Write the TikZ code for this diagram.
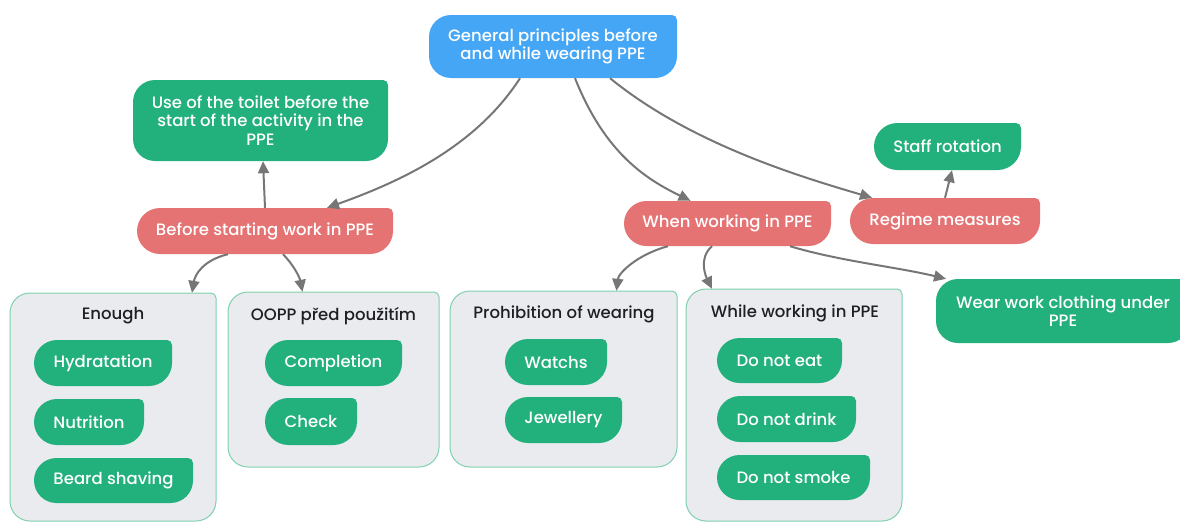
\documentclass[tikz,border=0pt]{standalone}
\usepackage{fontspec}
\IfFontExistsTF{Poppins Medium}
  {\setmainfont{Poppins Medium}}
  {\setmainfont{Poppins}[FakeBold=0.35]}
\usetikzlibrary{arrows.meta}

\definecolor{blueC}{HTML}{45A6F6}
\definecolor{greenC}{HTML}{22B07D}
\definecolor{redC}{HTML}{E57373}
\definecolor{groupC}{HTML}{EAEBEF}
\definecolor{groupLine}{HTML}{7FD0AE}
\definecolor{arrowC}{HTML}{767676}
\definecolor{titleC}{HTML}{1E1E24}

% Rounded box: big radius on three corners, small radius top right.
% #1 cx, #2 cy (downwards), #3 width, #4 height, #5 big radius, #6 path options
\newcommand\blobshape[6]{%
  \pgfmathsetmacro\bxl{#1-#3/2}\pgfmathsetmacro\bxr{#1+#3/2}%
  \pgfmathsetmacro\byt{-#2+#4/2}\pgfmathsetmacro\byb{-#2-#4/2}%
  \path[#6] ({\bxl},{\byt-#5})
      arc[start angle=180,end angle=90,radius=#5pt]
    -- ({\bxr-5},{\byt}) arc[start angle=90,end angle=0,radius=5pt]
    -- ({\bxr},{\byb+#5}) arc[start angle=0,end angle=-90,radius=#5pt]
    -- ({\bxl+#5},{\byb}) arc[start angle=270,end angle=180,radius=#5pt]
    -- cycle;}

% #1 name, #2 cx, #3 cy, #4 w, #5 h, #6 radius, #7 shape style, #8 text style, #9 text
\newcommand\blob[9]{%
  \blobshape{#2}{#3}{#4}{#5}{#6}{#7}%
  \node[#8, minimum width=#4pt, minimum height=#5pt, inner sep=0pt] (#1) at (#2,-#3) {#9};}

\tikzset{
  bluefill/.style={fill=blueC},
  greenfill/.style={fill=greenC},
  redfill/.style={fill=redC},
  groupbox/.style={fill=groupC, draw=groupLine, line width=1pt},
  wtext/.style={text=white, font=\fontsize{16.5}{18.5}\selectfont, align=center},
  ttext/.style={text=titleC, font=\fontsize{16.5}{18.5}\selectfont, align=center},
  link/.style={draw=arrowC, line width=2pt,
    -{Triangle[length=12pt,width=11pt]}},
}

\begin{document}
\begin{tikzpicture}[x=1pt,y=1pt]
\useasboundingbox (0,0) rectangle (1180,-522);

% group containers
\blob{enough}{113}{407}{206}{228}{20}{groupbox}{ttext}{}
\blob{oopp}{333.5}{379.5}{211}{175}{20}{groupbox}{ttext}{}
\blob{prohib}{563.5}{379}{227}{176}{20}{groupbox}{ttext}{}
\blob{whilew}{794}{405}{216}{232}{20}{groupbox}{ttext}{}

\node[ttext] (enoughT) at (113,-316) {Enough};
\node[ttext] (ooppT) at (333.5,-316) {OOPP před použitím};
\node[ttext] (prohibT) at (564,-314) {Prohibition of wearing};
\node[ttext] (whilewT) at (795,-313) {While working in PPE};

% main topics
\blob{root}{553}{46.5}{248}{63}{22}{bluefill}{wtext}{General principles before\\and while wearing PPE}
\blob{toilet}{260.5}{120.5}{255}{81}{22}{greenfill}{wtext}{Use of the toilet before the\\start of the activity in the\\PPE}
\blob{before}{265}{231}{256}{46}{23}{redfill}{wtext}{Before starting work in PPE}
\blob{when}{727.5}{223.5}{207}{45}{22.5}{redfill}{wtext}{When working in PPE}
\blob{regime}{945}{221}{190}{46}{23}{redfill}{wtext}{Regime measures}
\blob{staff}{947.5}{146.5}{147}{47}{23.5}{greenfill}{wtext}{Staff rotation}
\blob{wear}{1063}{311}{254}{64}{22}{greenfill}{wtext}{Wear work clothing under\\PPE}

% items inside the groups
\blob{hydr}{103}{363}{138}{46}{23}{greenfill}{wtext}{Hydratation}
\blob{nutr}{89}{422}{110}{46}{23}{greenfill}{wtext}{Nutrition}
\blob{beard}{113.5}{480.5}{159}{45}{22.5}{greenfill}{wtext}{Beard shaving}
\blob{compl}{333.5}{363}{137}{46}{23}{greenfill}{wtext}{Completion}
\blob{check}{311}{421.5}{92}{47}{23.5}{greenfill}{wtext}{Check}
\blob{watch}{556}{362}{102}{46}{23}{greenfill}{wtext}{Watchs}
\blob{jewel}{563.5}{420}{117}{46}{23}{greenfill}{wtext}{Jewellery}
\blob{noeat}{779.5}{360.5}{125}{45}{22.5}{greenfill}{wtext}{Do not eat}
\blob{nodrink}{786.5}{419}{139}{46}{23}{greenfill}{wtext}{Do not drink}
\blob{nosmoke}{793.5}{477.5}{153}{45}{22.5}{greenfill}{wtext}{Do not smoke}

% connectors
\draw[link] ([xshift=-33pt]root.south) .. controls +(-45,-70) and +(70,25) .. ([xshift=62pt]before.north);
\draw[link] ([xshift=22pt]root.south) .. controls +(30,-75) and +(-45,22) .. ([xshift=-37pt]when.north);
\draw[link] ([xshift=57pt]root.south) .. controls +(80,-65) and +(-75,22) .. ([xshift=-73pt]regime.north);
\draw[link] (before.north) -- ([xshift=2.5pt]toilet.south);
\draw[link] ([xshift=-37pt]before.south) .. controls +(-25,-6) and +(3,18) .. ([xshift=79pt]enough.north);
\draw[link] ([xshift=18pt]before.south) .. controls +(10,-10) and +(-3,15) .. ([xshift=-31pt]oopp.north);
\draw[link] ([xshift=-59.5pt]when.south) .. controls +(-30,-8) and +(2,18) .. ([xshift=53pt]prohib.north);
\draw[link] ([xshift=-15.5pt]when.south) .. controls +(-14,-12) and +(-6,12) .. ([xshift=-82pt]whilew.north);
\draw[link] ([xshift=62.5pt]when.south) .. controls +(50,-15) and +(-50,12) .. ([xshift=-117pt]wear.north);
\draw[link] (regime.north) -- ([xshift=4.5pt]staff.south);
\end{tikzpicture}
\end{document}
